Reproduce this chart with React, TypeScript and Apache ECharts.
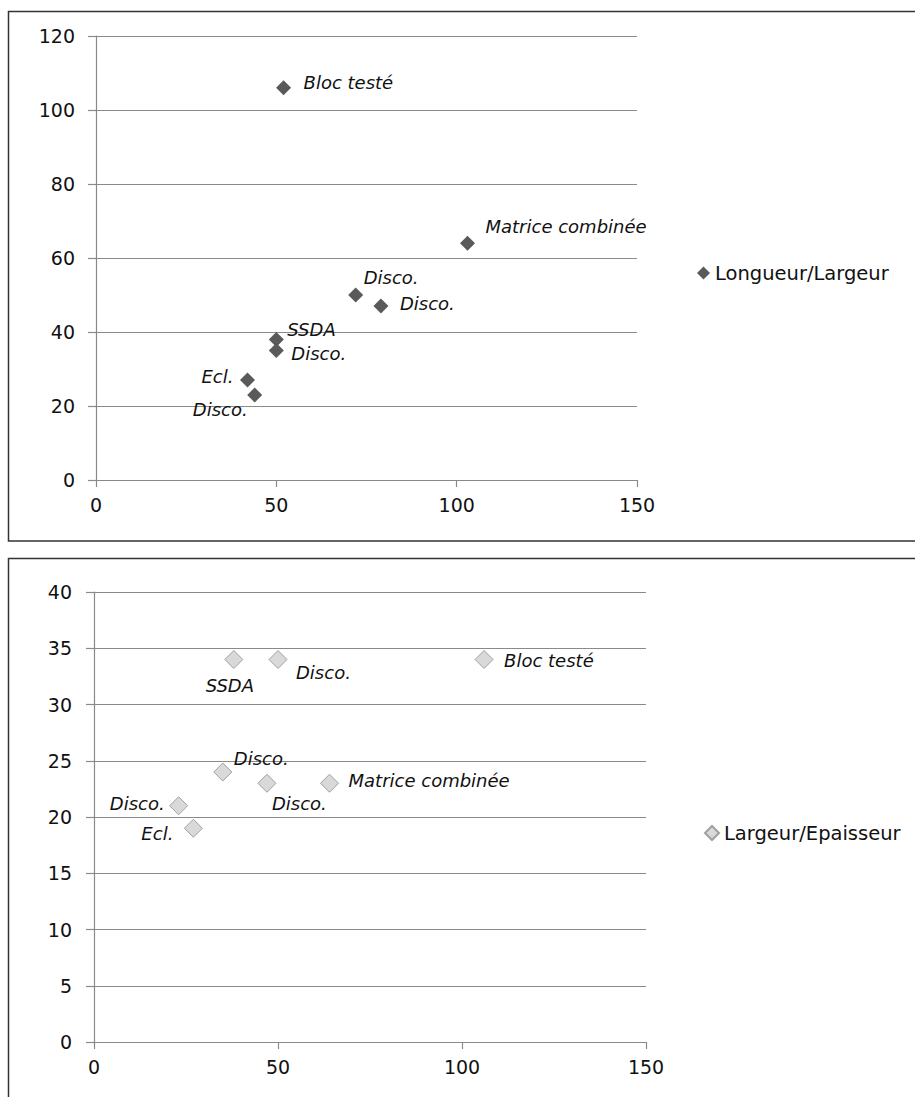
import React, { useEffect, useRef } from "react";
import * as echarts from "echarts";

// ---- Data ----
const topSeriesName = "Longueur/Largeur";
const topNames = ["Bloc testé", "Matrice combinée", "Disco.", "Disco.", "SSDA", "Disco.", "Ecl.", "Disco."];
const topX = [52, 103, 72, 79, 50, 50, 42, 44];
const topY = [106, 64, 50, 47, 38, 35, 27, 23];

const bottomSeriesName = "Largeur/Epaisseur";
const bottomNames = ["SSDA", "Disco.", "Bloc testé", "Disco.", "Disco.", "Matrice combinée", "Disco.", "Ecl."];
const bottomX = [38, 50, 106, 35, 47, 64, 23, 27];
const bottomY = [34, 34, 34, 24, 23, 23, 21, 19];

const topYTicks = [0, 20, 40, 60, 80, 100, 120];
const bottomYTicks = [0, 5, 10, 15, 20, 25, 30, 35, 40];
const xTicks = [0, 50, 100, 150];

// ---- Label placement (style) ----
const topLabelPlace: [string, number, number][] = [
  ["left", 20, -5],
  ["left", 18, -17],
  ["left", 8, -18],
  ["left", 19, -3],
  ["left", 11, -10],
  ["left", 15, 3],
  ["right", -14, -4],
  ["right", -7, 15],
];
const bottomLabelPlace: [string, number, number][] = [
  ["center", -4, 26],
  ["left", 18, 13],
  ["left", 20, 1],
  ["left", 11, -14],
  ["left", 5, 20],
  ["left", 19, -3],
  ["right", -14, -2],
  ["right", -20, 5],
];

const FONT = "DejaVu Sans";
const GRID_COLOR = "#8a8a8a";
const TEXT_COLOR = "#111111";

function buildPoints(names: string[], xs: number[], ys: number[], place: [string, number, number][]) {
  return xs.map((x, i) => ({
    value: [x, ys[i]],
    name: names[i],
    label: {
      show: true,
      formatter: names[i],
      position: ["50%", "50%"],
      align: place[i][0],
      verticalAlign: "middle",
      offset: [place[i][1], place[i][2]],
      fontFamily: FONT,
      fontStyle: "italic",
      fontSize: 18,
      color: TEXT_COLOR,
    },
  }));
}

function yAxis(gridIndex: number, ticks: number[], margin: number) {
  const step = ticks[1] - ticks[0];
  return {
    type: "value",
    gridIndex,
    min: ticks[0],
    max: ticks[ticks.length - 1],
    interval: step,
    axisLine: { show: true, lineStyle: { color: GRID_COLOR, width: 1.2 } },
    axisTick: { show: true, inside: false, length: 8, lineStyle: { color: GRID_COLOR, width: 1.2 } },
    splitLine: { show: true, lineStyle: { color: GRID_COLOR, width: 1.2 } },
    axisLabel: { margin, fontFamily: FONT, fontSize: 19, color: TEXT_COLOR },
  };
}

function xAxis(gridIndex: number) {
  return {
    type: "value",
    gridIndex,
    min: xTicks[0],
    max: xTicks[xTicks.length - 1],
    interval: xTicks[1] - xTicks[0],
    axisLine: { show: true, onZero: false, lineStyle: { color: GRID_COLOR, width: 1.2 } },
    axisTick: { show: true, inside: false, length: 7, lineStyle: { color: GRID_COLOR, width: 1.2 } },
    splitLine: { show: false },
    axisLabel: { margin: 15, fontFamily: FONT, fontSize: 19, color: TEXT_COLOR },
  };
}

export default function App() {
  const ref = useRef<HTMLDivElement>(null);

  useEffect(() => {
    if (!ref.current) return;
    const chart = echarts.init(ref.current, undefined, { renderer: "svg" });
    chart.setOption({
      animation: false,
      backgroundColor: "#ffffff",
      graphic: [
        {
          type: "rect",
          silent: true,
          z: -10,
          shape: { x: 8.5, y: 11.5, width: 1000, height: 529.5 },
          style: { fill: "none", stroke: "#333333", lineWidth: 1.5 },
        },
        {
          type: "rect",
          silent: true,
          z: -10,
          shape: { x: 8.5, y: 558.5, width: 1000, height: 1000 },
          style: { fill: "none", stroke: "#333333", lineWidth: 1.5 },
        },
      ],
      grid: [
        { left: 96, top: 36, width: 541, height: 444 },
        { left: 94, top: 592, width: 552, height: 450 },
      ],
      xAxis: [xAxis(0), xAxis(1)],
      yAxis: [yAxis(0, topYTicks, 21), yAxis(1, bottomYTicks, 22)],
      legend: [
        {
          data: [topSeriesName],
          left: 692,
          top: 258,
          icon: "diamond",
          itemWidth: 13,
          itemHeight: 13,
          itemGap: 4,
          textStyle: { fontFamily: FONT, fontSize: 19.5, color: TEXT_COLOR },
          selectedMode: false,
        },
        {
          data: [bottomSeriesName],
          left: 699,
          top: 818,
          icon: "diamond",
          itemWidth: 14,
          itemHeight: 14,
          itemGap: 4,
          textStyle: { fontFamily: FONT, fontSize: 19.5, color: TEXT_COLOR },
          selectedMode: false,
        },
      ],
      series: [
        {
          name: topSeriesName,
          type: "scatter",
          xAxisIndex: 0,
          yAxisIndex: 0,
          symbol: "diamond",
          symbolSize: 15,
          itemStyle: { color: "#5a5a5a", opacity: 1 },
          data: buildPoints(topNames, topX, topY, topLabelPlace),
        },
        {
          name: bottomSeriesName,
          type: "scatter",
          xAxisIndex: 1,
          yAxisIndex: 1,
          symbol: "diamond",
          symbolSize: 18,
          itemStyle: { color: "#d9d9d9", borderColor: "#a0a0a0", borderWidth: 1, opacity: 1 },
          data: buildPoints(bottomNames, bottomX, bottomY, bottomLabelPlace),
        },
      ],
    });
    return () => chart.dispose();
  }, []);

  return (
    <div
      ref={ref}
      style={{ position: "absolute", left: 0, top: 0, width: 915, height: 1097 }}
    />
  );
}
